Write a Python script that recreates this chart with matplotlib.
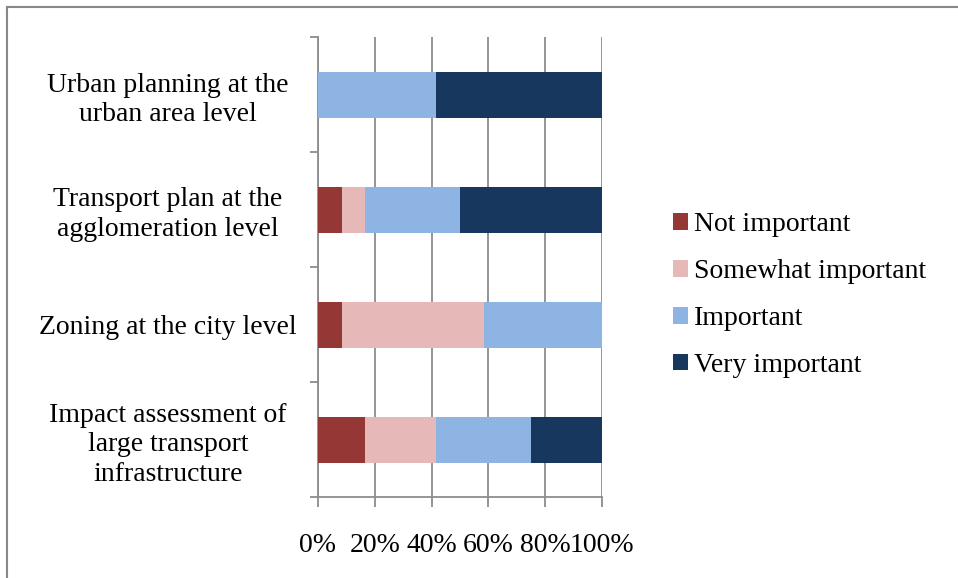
import matplotlib
matplotlib.use("Agg")
import matplotlib.pyplot as plt
from matplotlib.lines import Line2D
import numpy as np

categories = [
    "Impact assessment of\nlarge transport\ninfrastructure",
    "Zoning at the city level",
    "Transport plan at the\nagglomeration level",
    "Urban planning at the\nurban area level",
]
series_names = ["Not important", "Somewhat important", "Important", "Very important"]
not_important = [16.7, 8.3, 8.3, 0.0]
somewhat_important = [25.0, 50.0, 8.3, 0.0]
important = [33.3, 41.7, 33.4, 41.7]
very_important = [25.0, 0.0, 50.0, 58.3]
colors = ["#953735", "#E6B9B8", "#8EB4E3", "#17375E"]
xticks = [0, 20, 40, 60, 80, 100]
xtick_labels = ["0%", "20%", "40%", "60%", "80%", "100%"]

plt.rcParams['font.family'] = ['Liberation Serif', 'DejaVu Serif']
W, H = 958, 578
FS = 20
fig = plt.figure(figsize=(W / 100, H / 100), dpi=100)
ax = fig.add_axes([318 / W, 1 - 497 / H, (602 - 318) / W, (497 - 37) / H])

grid_c = "#8C8C8C"
y = np.arange(len(categories))
left = np.zeros(len(categories))
for name, vals, c in zip(series_names,
                         [not_important, somewhat_important, important, very_important],
                         colors):
    ax.barh(y, vals, left=left, height=0.4, color=c, label=name, zorder=3)
    left += np.array(vals)

ax.set_xlim(0, 100)
ax.set_ylim(-0.5, len(categories) - 0.5)
ax.set_xticks(xticks)
ax.set_xticklabels(xtick_labels, fontsize=FS)
ax.xaxis.grid(True, color=grid_c, linewidth=1.3, zorder=0)
ax.set_yticks(y)
ax.set_yticklabels(categories, fontsize=FS, ha='center', multialignment='center',
                   linespacing=1.26)
ax.tick_params(axis='y', length=0, pad=108)
ax.set_yticks(np.arange(-0.5, len(categories)), minor=True)
ax.tick_params(axis='y', which='minor', length=6, width=1.3, color=grid_c, direction='out')
ax.tick_params(axis='x', length=7, width=1.3, color=grid_c, direction='out', pad=19)
for s in ['top', 'right']:
    ax.spines[s].set_visible(False)
for s in ['left', 'bottom']:
    ax.spines[s].set_color(grid_c)
    ax.spines[s].set_linewidth(1.3)

handles, labels = ax.get_legend_handles_labels()
leg = fig.legend(handles, labels, loc='center left', bbox_to_anchor=(648 / W, 1 - 295 / H),
                 frameon=False, fontsize=FS, handlelength=0.55, handleheight=0.55,
                 handletextpad=0.22, labelspacing=0.79)

fig.add_artist(Line2D([7 / W, 1], [1 - 7 / H, 1 - 7 / H], color="#888888", linewidth=1.5))
fig.add_artist(Line2D([7 / W, 7 / W], [0, 1 - 7 / H], color="#888888", linewidth=1.5))

fig.savefig("out.png", dpi=100)
